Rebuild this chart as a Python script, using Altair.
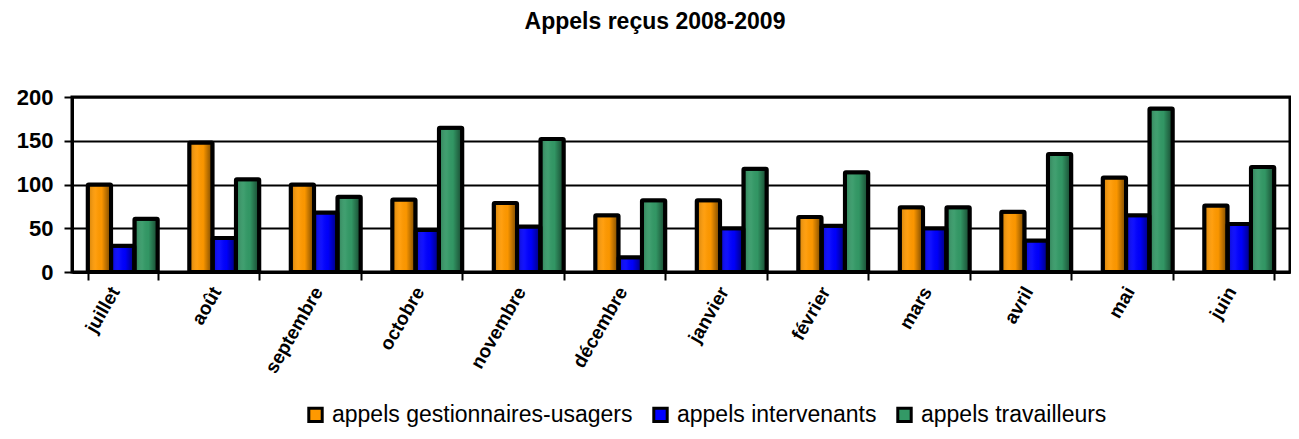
import altair as alt
import pandas as pd

months = ["juillet", "août", "septembre", "octobre", "novembre", "décembre",
          "janvier", "février", "mars", "avril", "mai", "juin"]
series = ["appels gestionnaires-usagers", "appels intervenants", "appels travailleurs"]
gestionnaires = [100, 148, 100, 83, 79, 65, 82, 63, 74, 69, 108, 76]
intervenants = [30, 39, 68, 48, 52, 17, 50, 53, 50, 36, 65, 55]
travailleurs = [61, 106, 86, 165, 152, 82, 118, 114, 74, 135, 187, 120]
colors = ["#FF9900", "#0000FF", "#339966"]
y_ticks = [0, 50, 100, 150, 200]
title_text = "Appels reçus 2008-2009"

rows = []
for s, vals in zip(series, [gestionnaires, intervenants, travailleurs]):
    for m, v in zip(months, vals):
        rows.append({"mois": m, "serie": s, "valeur": v})
df = pd.DataFrame(rows)

FONT = "Liberation Sans"

base = alt.Chart(df).encode(
    x=alt.X("mois:N", sort=months,
            scale=alt.Scale(paddingInner=0.31, paddingOuter=0.155),
            axis=alt.Axis(title=None, labelAngle=-60, labelFont=FONT,
                          labelFontSize=19, labelFontWeight="bold",
                          labelColor="black", tickBand="extent", tickSize=8,
                          tickWidth=2, tickColor="black", labelPadding=8,
                          labelOffset=-8, labelLimit=0,
                          domainColor="black", domainWidth=3)),
    xOffset=alt.XOffset("serie:N", sort=series,
                        scale=alt.Scale(domain=series, paddingInner=0, paddingOuter=0)),
    y=alt.Y("valeur:Q", scale=alt.Scale(domain=[0, 200], nice=False),
            axis=alt.Axis(title=None, values=y_ticks, labelFont=FONT,
                          labelFontSize=22, labelFontWeight="bold",
                          labelColor="black", tickSize=8, tickWidth=2,
                          tickColor="black", labelPadding=11, grid=True,
                          gridColor="black", gridWidth=2, gridOpacity=1,
                          domainColor="black", domainWidth=3)),
)

fill_layer = base.mark_bar().encode(
    color=alt.Color("serie:N", sort=series,
                    scale=alt.Scale(domain=series, range=colors),
                    legend=alt.Legend(title=None, orient="none", direction="horizontal",
                                      legendX=232, legendY=306,
                                      symbolType="square", symbolSize=180,
                                      symbolStrokeColor="black", symbolStrokeWidth=3,
                                      symbolOpacity=1, labelLimit=0,
                                      labelFont=FONT, labelFontSize=23,
                                      labelColor="black", labelOffset=5,
                                      columnPadding=14))
)

shade = alt.Gradient(
    gradient="linear", x1=0, x2=1, y1=0, y2=0,
    stops=[
        alt.GradientStop(offset=0, color="rgba(0,0,0,0.22)"),
        alt.GradientStop(offset=0.35, color="rgba(255,255,255,0.06)"),
        alt.GradientStop(offset=0.6, color="rgba(0,0,0,0.02)"),
        alt.GradientStop(offset=1, color="rgba(0,0,0,0.55)"),
    ],
)

shade_layer = base.mark_bar(fill=shade, stroke="black", strokeWidth=4,
                            cornerRadius=1)

chart = alt.layer(fill_layer, shade_layer).properties(
    width=1218, height=175,
    title=alt.TitleParams(title_text, font=FONT, fontSize=23, fontWeight="bold",
                          color="black", anchor="middle", offset=52, dx=-26),
    autosize=alt.AutoSizeParams(type="none"),
    padding={"left": 64, "top": 89, "right": 1, "bottom": 159},
).configure_view(stroke="black", strokeWidth=3)

chart.save("out.html", embed_options={"renderer": "svg", "actions": False})
